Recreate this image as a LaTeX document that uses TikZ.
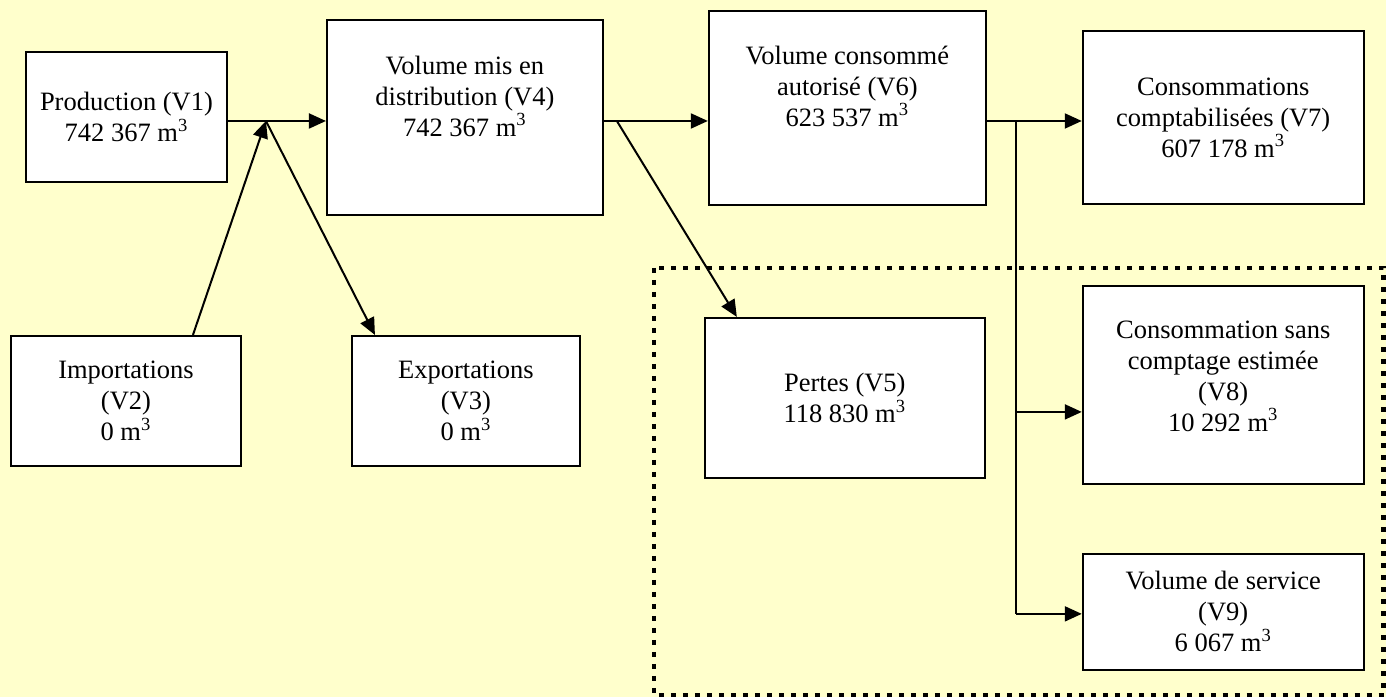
\documentclass[tikz,border=0pt]{standalone}
\usepackage{fontspec}
\setmainfont{Liberation Serif}
\usetikzlibrary{arrows.meta,calc}
\definecolor{colorbg}{HTML}{FFFFCC}
\tikzset{box/.style={draw, fill=white, line width=1pt, inner sep=1pt, align=center, font=\fontsize{13.25}{15.5}\selectfont}}
\tikzset{flow/.style={line width=1pt, -{Triangle[length=8.5pt,width=7.5pt]}}}
\tikzset{link/.style={line width=1pt}}
\tikzset{frame/.style={line width=2.3pt, dash pattern=on 2.4pt off 3.6pt}}
\newcommand\mcube[1]{#1~m\textsuperscript{3}}

\begin{document}
\begin{tikzpicture}[x=0.5pt, y=-0.5pt]
\fill[colorbg] (0,0) rectangle (1386,697);
\draw[frame] (654,268) rectangle (1384,695);
\node[box, minimum width=100.5pt, minimum height=65pt](v1) at (126.5,117) {Production (V1)\\\mcube{742 367}};
\node[box, minimum width=115pt, minimum height=65pt](v2) at (126,401) {Importations\\(V2)\\\mcube{0}};
\node[box, minimum width=114pt, minimum height=65pt](v3) at (466,401) {Exportations\\(V3)\\\mcube{0}};
\node[box, minimum width=138pt, minimum height=97.5pt, text depth=21.5pt](v4) at (465,117.5) {Volume mis en\\distribution (V4)\\\mcube{742 367}};
\node[box, minimum width=140pt, minimum height=80pt](v5) at (845,398) {Pertes (V5)\\\mcube{118 830}};
\node[box, minimum width=138.5pt, minimum height=97pt, text depth=22pt](v6) at (847.5,108) {Volume consommé\\autorisé (V6)\\\mcube{623 537}};
\node[box, minimum width=140.5pt, minimum height=86.5pt](v7) at (1223.5,117.5) {Consommations\\comptabilisées (V7)\\\mcube{607 178}};
\node[box, minimum width=140.5pt, minimum height=99pt, text depth=9pt](v8) at (1223.5,385) {Consommation sans\\comptage estimée\\(V8)\\\mcube{10 292}};
\node[box, minimum width=140.5pt, minimum height=58pt](v9) at (1223.5,612) {Volume de service\\(V9)\\\mcube{6 067}};
\coordinate (j1) at (266,121);
\coordinate (j2) at (617,121);
\coordinate (j3) at (1016,121);
\coordinate (j4) at (1016,412);
\coordinate (j5) at (1016,614);
\draw[flow] (v1.east |- j1) -- (j1 -| v4.west);
\draw[flow] ($(v2.north)+(67,0)$) -- (j1);
\draw[flow] (j1) -- ($(v3.north)+(-91,0)$);
\draw[flow] (v4.east |- j2) -- (j2 -| v6.west);
\draw[flow] (j2) -- ($(v5.north)+(-108,0)$);
\draw[flow] (v6.east |- j3) -- (j3 -| v7.west);
\draw[link] (j3) -- (j5);
\draw[flow] (j4) -- (j4 -| v8.west);
\draw[flow] (j5) -- (j5 -| v9.west);
\end{tikzpicture}
\end{document}
